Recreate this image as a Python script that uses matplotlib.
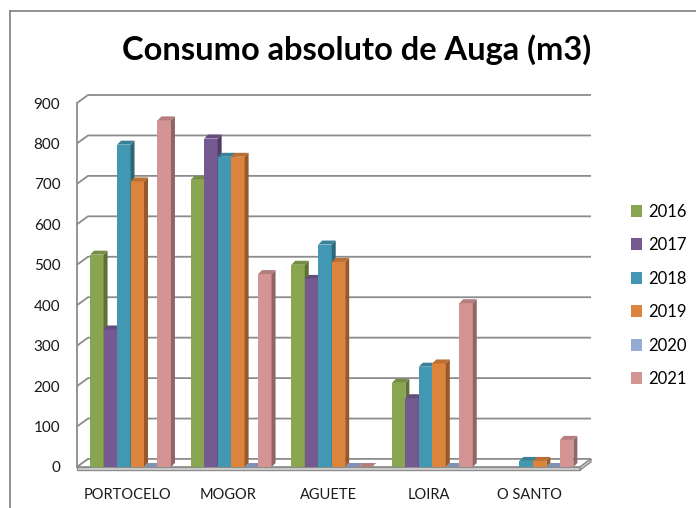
"""
Consumo absoluto de Auga (m3) - Excel-style 3D clustered columns redrawn in 2D.
"""

import numpy as np
import matplotlib.pyplot as plt
from matplotlib.patches import Polygon, Patch
from matplotlib.lines import Line2D
import matplotlib.colors as mcolors


places = ['PORTOCELO', 'MOGOR', 'AGUETE', 'LOIRA', 'O SANTO']
years = ['2016', '2017', '2018', '2019', '2020', '2021']

# one list per year, values per place (nan = empty cell, no bar drawn)
v2016 = [525, 710, 500, 208, np.nan]
v2017 = [340, 812, 465, 170, np.nan]
v2018 = [797, 767, 550, 248, 15]
v2019 = [706, 767, 507, 256, 15]
v2020 = [0, 0, 0, 0, 0]
v2021 = [857, 477, 0, 405, 67]

yticks = [0, 100, 200, 300, 400, 500, 600, 700, 800, 900]

COLORS = ['#8aa550', '#755a92', '#4298b2', '#dc833c', '#95abd3', '#d49494']

plt.rcParams['font.family'] = ['Lato', 'DejaVu Sans']

W, H = 696, 508
fig = plt.figure(figsize=(W / 100, H / 100), dpi=100)

# front plane of the plot, in pixels
left_px, right_px, base_px, top_px = 77, 580, 467, 103
ax = fig.add_axes([left_px / W, (H - base_px) / H,
                   (right_px - left_px) / W, (base_px - top_px) / H])
ax.set_xlim(0, len(places))
ax.set_ylim(0, 900)
ax.set_facecolor('none')
for s in ax.spines.values():
    s.set_visible(False)

# data units per pixel
kx = len(places) / (right_px - left_px)
ky = 900 / (base_px - top_px)

# depth of the back wall and of each column
wdx, wdy = 11 * kx, 8 * ky
bdx, bdy = 4 * kx, 4 * ky

grid_c = '#8c8c8c'
n = len(places)

# back wall gridlines + left wall edge
for v in yticks:
    ax.plot([0, wdx, n + wdx], [v, v + wdy, v + wdy], color=grid_c,
            lw=1.3, zorder=1, clip_on=False, solid_capstyle='butt')
ax.plot([0, 0], [0, 900], color=grid_c, lw=1.3, zorder=1, clip_on=False)

# floor slab
t = 3 * ky
ax.add_patch(Polygon([(0, 0), (n, 0), (n + wdx, wdy), (wdx, wdy)],
                     closed=True, fc='white', ec=grid_c, lw=1.2,
                     zorder=2, clip_on=False))
ax.add_patch(Polygon([(0, 0), (n, 0), (n, -t), (0, -t)],
                     closed=True, fc='#d9d9d9', ec=grid_c, lw=1.0,
                     zorder=2, clip_on=False))
ax.add_patch(Polygon([(n, 0), (n + wdx, wdy), (n + wdx, wdy - t), (n, -t)],
                     closed=True, fc='#d9d9d9', ec=grid_c, lw=1.0,
                     zorder=2, clip_on=False))


def shade(c, f):
    r, g, b = mcolors.to_rgb(c)
    return (r * f, g * f, b * f)


series = [v2016, v2017, v2018, v2019, v2020, v2021]
bar_w = 0.134
start = 0.13
z = 3
for i in range(n):
    for j, vals in enumerate(series):
        v = vals[i]
        if np.isnan(v):
            continue
        x0 = i + start + j * bar_w
        x1 = x0 + bar_w
        c = COLORS[j]
        if v > 0:
            ax.bar(x0, v, width=bar_w, align='edge', color=c,
                   edgecolor='none', zorder=z)
            # right side
            ax.add_patch(Polygon([(x1, 0), (x1 + bdx, bdy), (x1 + bdx, v + bdy), (x1, v)],
                                 closed=True, fc=shade(c, 0.68), ec='none', zorder=z))
        # top face
        ax.add_patch(Polygon([(x0, v), (x1, v), (x1 + bdx, v + bdy), (x0 + bdx, v + bdy)],
                             closed=True, fc=shade(c, 0.85), ec='none', zorder=z))
        z += 1

ax.set_yticks(yticks)
ax.set_yticklabels([str(v) for v in yticks], fontsize=11, color='#1a1a1a')
ax.set_xticks(np.arange(n) + 0.5)
ax.set_xticklabels(places, fontsize=10.5, color='#1a1a1a')
ax.tick_params(axis='y', length=0, pad=12)
ax.tick_params(axis='x', length=0, pad=15)

ax.set_title('Consumo absoluto de Auga (m3)', fontsize=23.5, fontweight='bold',
             x=(357 - left_px) / (right_px - left_px), y=1.0, pad=31)

handles = [Patch(fc=c, ec='none') for c in COLORS]
fig.legend(handles, years, loc='upper left',
           bbox_to_anchor=(624 / W, 1 - 197 / H), frameon=False,
           fontsize=12, handlelength=0.7, handleheight=0.7,
           handletextpad=0.35, labelspacing=1.05, borderaxespad=0)

# outer chart frame (cropped on the right and bottom)
fig.add_artist(Line2D([10 / W, 10 / W], [0, 1 - 11 / H], color='#7f7f7f',
                      lw=1.2, transform=fig.transFigure))
fig.add_artist(Line2D([10 / W, 1], [1 - 11 / H, 1 - 11 / H], color='#7f7f7f',
                      lw=1.2, transform=fig.transFigure))

plt.savefig('out.png', dpi=100)
